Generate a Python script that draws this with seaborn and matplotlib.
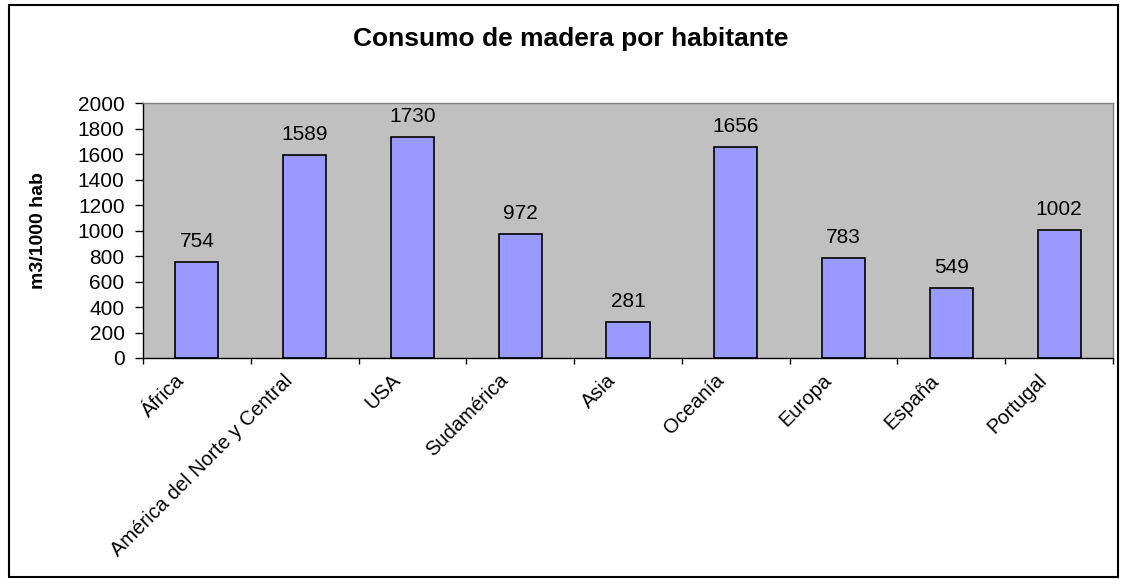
import matplotlib
matplotlib.use("Agg")
import matplotlib.pyplot as plt
import matplotlib.transforms as mtransforms
import seaborn as sns
import pandas as pd
from matplotlib.patches import Rectangle

categories = ["África", "América del Norte y Central", "USA", "Sudamérica", "Asia",
              "Oceanía", "Europa", "España", "Portugal"]
values = [754, 1589, 1730, 972, 281, 1656, 783, 549, 1002]
yticks = list(range(0, 2001, 200))

sns.set_theme(style="white")
plt.rcParams['font.family'] = ['Liberation Sans', 'DejaVu Sans']
plt.rcParams['text.color'] = 'black'
plt.rcParams['axes.labelcolor'] = 'black'
plt.rcParams['xtick.color'] = 'black'
plt.rcParams['ytick.color'] = 'black'

df = pd.DataFrame({"region": categories, "valor": values})

fig = plt.figure(figsize=(11.21, 5.79), dpi=100)
ax = fig.add_axes([0.1276, 0.3817, 0.8653, 0.4403])
ax.set_facecolor("#C0C0C0")

sns.barplot(data=df, x="region", y="valor", ax=ax, color="#9999FF",
            saturation=1, width=0.4, edgecolor="black", linewidth=1.2)

ax.set_xlim(-0.5, len(categories) - 0.5)
ax.set_ylim(0, 2000)
ax.set_yticks(yticks)
ax.set_yticklabels([str(t) for t in yticks], fontsize=15, color="black")
ax.tick_params(axis="y", direction="out", length=5.8, width=1, color="black", left=True, pad=7.5)

ax.set_xticks([i + 0.5 for i in range(-1, len(categories))], minor=False)
ax.set_xticklabels([""] * (len(categories) + 1))
ax.tick_params(axis="x", which="major", direction="out", length=4, width=1, color="black", bottom=True)
ax.set_xticks(range(len(categories)), minor=True)
ax.set_xticklabels(categories, minor=True, rotation=45, ha="right", va="center",
                   rotation_mode="anchor", fontsize=14.5, color="black")
ax.tick_params(axis="x", which="minor", length=0, pad=14)
shift = mtransforms.ScaledTranslation(-0.15, 0, fig.dpi_scale_trans)
for lbl in ax.get_xticklabels(minor=True):
    lbl.set_transform(lbl.get_transform() + shift)

for sp in ["top", "right"]:
    ax.spines[sp].set_color("#808080")
    ax.spines[sp].set_linewidth(1)
for sp in ["left", "bottom"]:
    ax.spines[sp].set_color("black")
    ax.spines[sp].set_linewidth(1)

for i, v in enumerate(values):
    ax.annotate(str(v), (i, v), xytext=(0, 8), textcoords="offset points",
                ha="center", va="bottom", fontsize=15, color="black")

ax.set_xlabel("")
ax.set_ylabel("m3/1000 hab", fontsize=14, fontweight="bold", color="black")
ax.yaxis.set_label_coords(-0.099, 0.5)

fig.text(0.509, 0.933, "Consumo de madera por habitante", ha="center", va="center",
         fontsize=19, fontweight="bold", color="black")

fig.patches.append(Rectangle((0.008, 0.003), 0.989, 0.988, transform=fig.transFigure,
                             fill=False, edgecolor="black", linewidth=1.5))

fig.savefig("out.png", dpi=100, facecolor="white")
